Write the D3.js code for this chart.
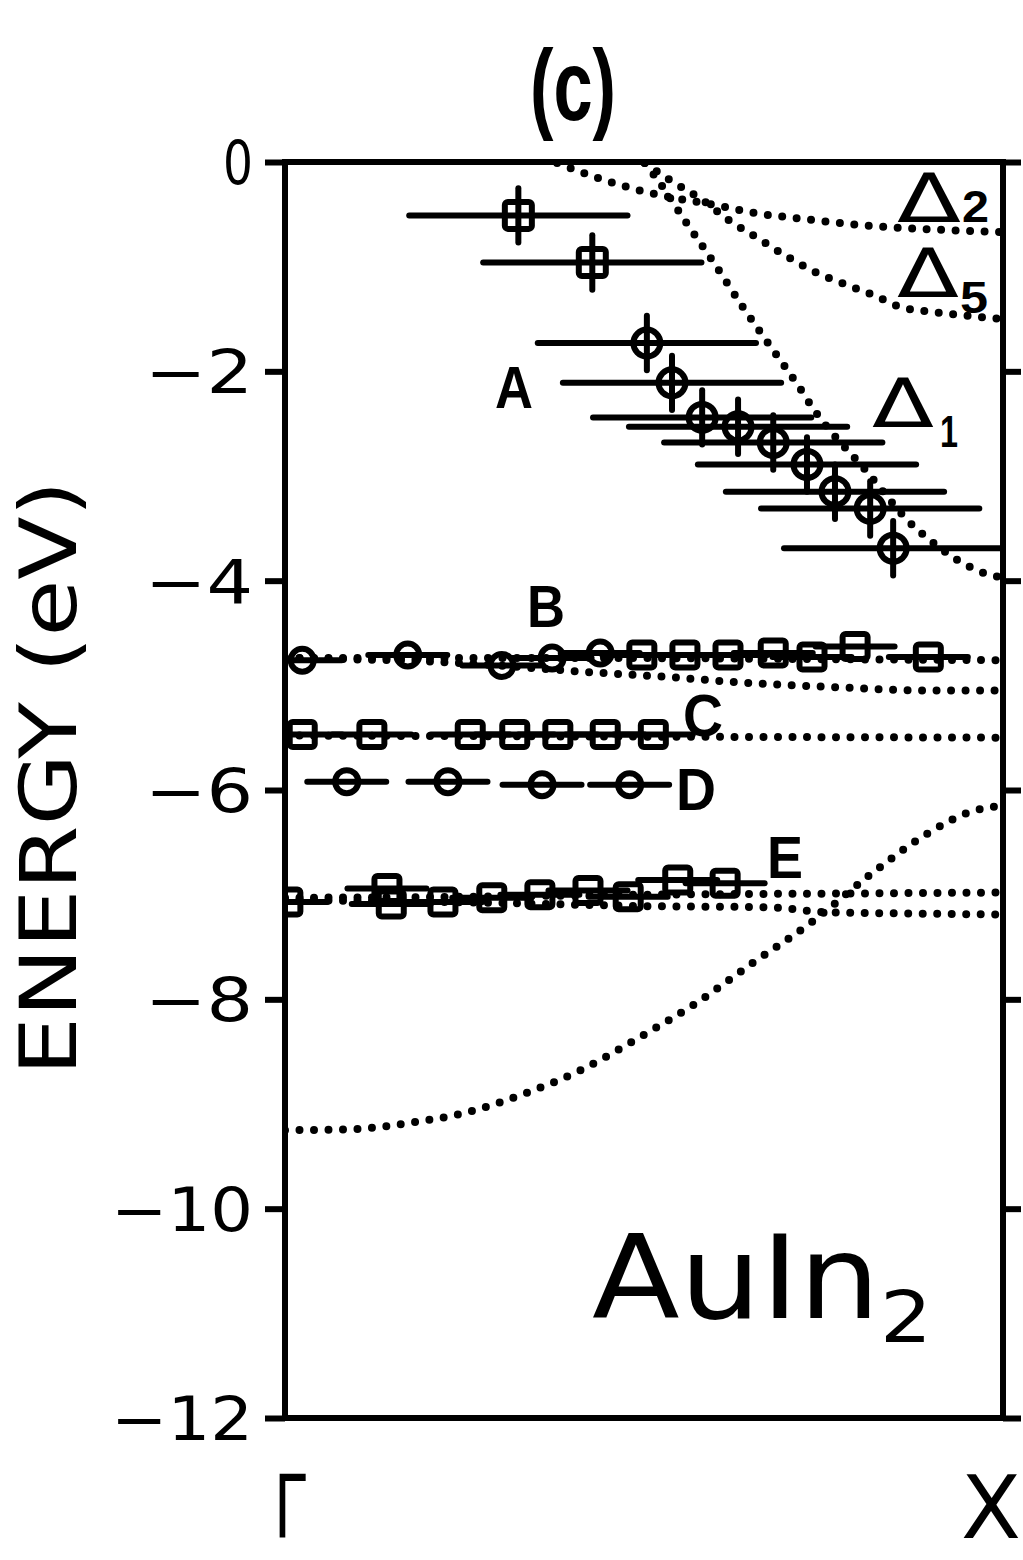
<!DOCTYPE html>
<html>
<head>
<meta charset="utf-8">
<script src="https://cdn.jsdelivr.net/npm/d3@7"></script>
<style>
  html, body { margin: 0; padding: 0; background: #fff; }
</style>
</head>
<body>
<div id="chart"></div>
<script>
// positions along Gamma-X (0 = Gamma, 1 = X), energies in eV

// calculated bands, drawn dotted
const bandDelta2 = [[0.379,-0.01],[0.439,-0.16],[0.499,-0.28],[0.539,-0.34],[0.599,-0.41],[0.657,-0.49],[0.717,-0.54],[0.798,-0.60],[0.859,-0.63],[0.919,-0.65],[1.0,-0.67]];
const bandDelta5 = [[0.501,-0.01],[0.540,-0.19],[0.581,-0.36],[0.617,-0.55],[0.659,-0.73],[0.696,-0.89],[0.738,-1.05],[0.777,-1.16],[0.819,-1.27],[0.859,-1.39],[0.898,-1.43],[0.937,-1.46],[1.0,-1.50]];
const bandDelta1 = [[0.501,-0.01],[0.519,-0.17],[0.558,-0.57],[0.599,-0.98],[0.638,-1.39],[0.678,-1.78],[0.717,-2.16],[0.735,-2.35],[0.808,-2.94],[0.877,-3.49],[0.896,-3.60],[0.936,-3.80],[0.975,-3.93],[1.0,-3.97]];
const bandB1 = [[0,-4.74],[0.25,-4.74],[0.5,-4.74],[0.75,-4.75],[1,-4.76]];
const bandB2 = [[0,-4.74],[0.253,-4.79],[0.415,-4.87],[0.532,-4.92],[0.652,-4.98],[0.773,-5.02],[0.894,-5.05],[1,-5.05]];
const bandC = [[0,-5.48],[0.5,-5.49],[1,-5.50]];
const bandE1 = [[0,-7.03],[0.25,-7.02],[0.5,-7.0],[0.75,-6.99],[1,-6.98]];
const bandE2 = [[0,-7.05],[0.3,-7.08],[0.51,-7.11],[0.67,-7.12],[0.76,-7.17],[0.87,-7.18],[1,-7.19]];
const bandLow = [[0,-9.25],[0.095,-9.24],[0.174,-9.18],[0.253,-9.08],[0.334,-8.90],[0.414,-8.67],[0.492,-8.37],[0.574,-8.03],[0.652,-7.65],[0.734,-7.26],[0.813,-6.82],[0.894,-6.42],[0.954,-6.21],[1.0,-6.15]];

// measured peaks
const aSquares = [[0.325,-0.51],[0.428,-0.96]];
const aCircles = [[0.504,-1.73],[0.539,-2.11],[0.581,-2.44],[0.631,-2.53],[0.680,-2.68],[0.727,-2.89],[0.766,-3.15],[0.815,-3.31],[0.847,-3.69]];
const bCircles = [[0.024,-4.76],[0.171,-4.71],[0.302,-4.81],[0.372,-4.74],[0.439,-4.69]];
const bSquares = [[0.497,-4.71],[0.557,-4.71],[0.617,-4.71],[0.680,-4.69],[0.734,-4.73],[0.794,-4.63],[0.896,-4.73]];
const cSquares = [[0.024,-5.47],[0.121,-5.47],[0.258,-5.47],[0.320,-5.47],[0.380,-5.47],[0.446,-5.47],[0.513,-5.47]];
const dCircles = [[0.086,-5.92],[0.227,-5.92],[0.358,-5.95],[0.480,-5.95]];
const eSquares = [[0.004,-7.07],[0.142,-6.94],[0.148,-7.09],[0.220,-7.07],[0.288,-7.03],[0.355,-7.00],[0.422,-6.96],[0.478,-7.02],[0.547,-6.86],[0.613,-6.89]];

// error bars
const aErrK = 0.152, aErrE = 0.26;
const rowErrK = 0.055;

const yTicks = [0, -2, -4, -6, -8, -10, -12];

const width = 1023, height = 1560;
const x = d3.scaleLinear().domain([0, 1]).range([285, 1003]);
const y = d3.scaleLinear().domain([-12, 0]).range([1418, 162]);

const svg = d3.select("#chart").append("svg")
    .attr("width", width)
    .attr("height", height)
    .style("display", "block");

svg.append("clipPath").attr("id", "plot")
  .append("rect")
    .attr("x", x(0)).attr("y", y(0))
    .attr("width", x(1) - x(0)).attr("height", y(-12) - y(0));

// axes
const yAxisL = d3.axisLeft(y).tickValues(yTicks).tickSize(20).tickPadding(12).tickFormat(d3.format("d"));
const gl = svg.append("g").attr("transform", `translate(${x(0)},0)`).call(yAxisL);
gl.select(".domain").remove();
gl.selectAll(".tick line").attr("stroke", "#000").attr("stroke-width", 6);
gl.selectAll(".tick text")
    .attr("fill", "#000")
    .attr("font-family", "DejaVu Sans")
    .attr("font-size", 60)
    .attr("dy", "0.36em")
    .attr("textLength", d => d === 0 ? 30 : (d <= -10 ? 142 : 108))
    .attr("lengthAdjust", "spacingAndGlyphs");

const yAxisR = d3.axisRight(y).tickValues(yTicks).tickSize(18).tickFormat("");
const gr = svg.append("g").attr("transform", `translate(${x(1)},0)`).call(yAxisR);
gr.select(".domain").remove();
gr.selectAll(".tick line").attr("stroke", "#000").attr("stroke-width", 6);

svg.append("rect")
    .attr("x", x(0)).attr("y", y(0))
    .attr("width", x(1) - x(0)).attr("height", y(-12) - y(0))
    .attr("fill", "none").attr("stroke", "#000").attr("stroke-width", 6);

// dotted bands
const line = d3.line().x(d => x(d[0])).y(d => y(d[1])).curve(d3.curveMonotoneX);
const gBands = svg.append("g").attr("clip-path", "url(#plot)");
[bandDelta2, bandDelta5, bandDelta1, bandB1, bandB2, bandC, bandE1, bandE2, bandLow].forEach(b => {
  gBands.append("path")
      .datum(b)
      .attr("d", line)
      .attr("fill", "none")
      .attr("stroke", "#000")
      .attr("stroke-width", 8)
      .attr("stroke-linecap", "round")
      .attr("stroke-dasharray", "0 14.5");
});

// data points
const gData = svg.append("g").attr("clip-path", "url(#plot)");

function hBars(data, ek) {
  gData.append("g").selectAll("line").data(data).join("line")
      .attr("x1", d => x(d[0] - ek)).attr("x2", d => x(d[0] + ek))
      .attr("y1", d => y(d[1])).attr("y2", d => y(d[1]))
      .attr("stroke", "#000").attr("stroke-width", 6).attr("stroke-linecap", "round");
}
function vBars(data, ee) {
  gData.append("g").selectAll("line").data(data).join("line")
      .attr("x1", d => x(d[0])).attr("x2", d => x(d[0]))
      .attr("y1", d => y(d[1] + ee)).attr("y2", d => y(d[1] - ee))
      .attr("stroke", "#000").attr("stroke-width", 6).attr("stroke-linecap", "round");
}
function squares(data, s) {
  gData.append("g").selectAll("rect").data(data).join("rect")
      .attr("x", d => x(d[0]) - s / 2).attr("y", d => y(d[1]) - s / 2)
      .attr("width", s).attr("height", s).attr("rx", 3)
      .attr("fill", "none").attr("stroke", "#000").attr("stroke-width", 6);
}
function circles(data, r) {
  gData.append("g").selectAll("circle").data(data).join("circle")
      .attr("cx", d => x(d[0])).attr("cy", d => y(d[1])).attr("r", r)
      .attr("fill", "none").attr("stroke", "#000").attr("stroke-width", 6);
}

hBars(aSquares, aErrK); vBars(aSquares, aErrE); squares(aSquares, 27);
hBars(aCircles, aErrK); vBars(aCircles, aErrE); circles(aCircles, 13.5);
hBars(bCircles, rowErrK); circles(bCircles, 11.5);
hBars(bSquares, rowErrK); squares(bSquares, 25);
hBars(cSquares, rowErrK); squares(cSquares, 25);
hBars(dCircles, rowErrK); circles(dCircles, 11.5);
hBars(eSquares, rowErrK); squares(eSquares, 25);

// labels
function label(txt, px, py, opts) {
  const t = svg.append("text")
      .attr("x", px).attr("y", py)
      .attr("font-family", opts.family || "DejaVu Sans")
      .attr("font-weight", opts.weight || "normal")
      .attr("font-size", opts.size)
      .attr("text-anchor", opts.anchor || "start")
      .attr("fill", "#000")
      .text(txt);
  if (opts.len) t.attr("textLength", opts.len).attr("lengthAdjust", "spacingAndGlyphs");
  return t;
}

const bold = { family: "Liberation Sans, Arial, sans-serif", weight: "bold" };

label("(c)", 573, 120, { ...bold, size: 100, anchor: "middle", len: 86 });

svg.append("text")
    .attr("transform", "translate(76,778) rotate(-90)")
    .attr("font-family", "DejaVu Sans")
    .attr("font-size", 78)
    .attr("text-anchor", "middle")
    .attr("textLength", 595)
    .attr("lengthAdjust", "spacingAndGlyphs")
    .text("ENERGY (eV)");

label("Γ", 274, 1538, { size: 88, len: 32 });
label("X", 1021, 1538, { size: 88, anchor: "end", len: 60 });

label("AuIn", 592, 1318, { size: 115, len: 288 });
label("2", 880, 1342, { size: 72, len: 52 });

label("A", 495, 408, { ...bold, size: 60, len: 38 });
label("B", 527, 627, { ...bold, size: 60, len: 38 });
label("C", 683, 736, { ...bold, size: 60, len: 40 });
label("D", 676, 810, { ...bold, size: 60, len: 40 });
label("E", 767, 878, { ...bold, size: 60, len: 36 });

label("Δ", 897, 222, { size: 68, len: 64 });
label("2", 962, 222, { ...bold, size: 45, len: 27 });
label("Δ", 897, 297, { size: 68, len: 62 });
label("5", 960, 313, { ...bold, size: 45, len: 28 });
label("Δ", 872, 427, { size: 68, len: 62 });
label("1", 940, 447, { ...bold, size: 45, len: 18 });
</script>
</body>
</html>
